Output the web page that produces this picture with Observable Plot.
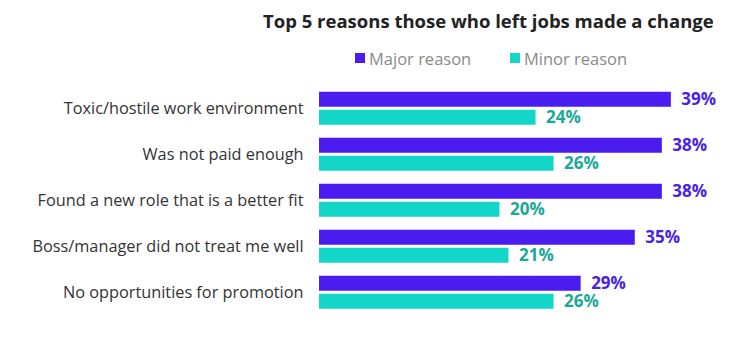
<!DOCTYPE html>
<html>
<head>
<meta charset="utf-8">
<script src="https://cdn.jsdelivr.net/npm/d3@7"></script>
<script src="https://cdn.jsdelivr.net/npm/@observablehq/plot@0.6"></script>
<style>
  html, body { margin: 0; padding: 0; background: #fff; }
  #wrap { position: relative; width: 738px; height: 340px; font-family: "Open Sans", sans-serif; }
  #title { position: absolute; left: 263px; top: 8px; font-size: 18.5px; font-weight: 700; color: #222; white-space: nowrap; line-height: 26px; }
  #legend { position: absolute; left: 0; top: 46px; width: 738px; height: 24px; font-size: 16.5px; color: #8a8a8a; white-space: nowrap; }
  .sw { display: inline-block; width: 10px; height: 10px; margin-right: 4px; }
  .item { position: absolute; top: 0; display: flex; align-items: center; height: 24px; }
  #chart { position: absolute; left: 0; top: 72px; }
</style>
</head>
<body>
<div id="wrap">
  <div id="title"></div>
  <div id="legend"></div>
  <div id="chart"></div>
</div>
<script>
const titleText = "Top 5 reasons those who left jobs made a change";
const categories = [
  "Toxic/hostile work environment",
  "Was not paid enough",
  "Found a new role that is a better fit",
  "Boss/manager did not treat me well",
  "No opportunities for promotion"
];
const seriesNames = ["Major reason", "Minor reason"];
const majorValues = [39, 38, 38, 35, 29];
const minorValues = [24, 26, 20, 21, 26];
const barColors = ["#4A1CF0", "#14D6C8"];
const labelColors = ["#4A22E0", "#1AA898"];
const legendLeft = [355, 510];

const data = categories.flatMap((c, i) => [
  {reason: c, series: seriesNames[0], value: majorValues[i]},
  {reason: c, series: seriesNames[1], value: minorValues[i]}
]);

document.getElementById("title").textContent = titleText;
const legend = document.getElementById("legend");
seriesNames.forEach((s, i) => {
  const item = document.createElement("span");
  item.className = "item";
  item.style.left = legendLeft[i] + "px";
  const sw = document.createElement("span");
  sw.className = "sw";
  sw.style.background = barColors[i];
  item.appendChild(sw);
  item.appendChild(document.createTextNode(s));
  legend.appendChild(item);
});

const chart = Plot.plot({
  width: 738,
  height: 268,
  marginLeft: 319,
  marginRight: 13,
  marginTop: 11.25,
  marginBottom: 22.4,
  style: {fontFamily: "Open Sans, sans-serif", background: "#fff", overflow: "visible"},
  x: {domain: [0, 45], axis: null},
  y: {domain: seriesNames, axis: null, paddingInner: 0.158, paddingOuter: 0.313},
  fy: {domain: categories, padding: 0, label: null},
  color: {domain: seriesNames, range: barColors},
  marks: [
    Plot.barX(data, {x: "value", y: "series", fy: "reason", fill: "series"}),
    ...seriesNames.map((s, i) => Plot.text(data, {
      filter: d => d.series === s,
      x: "value", y: "series", fy: "reason",
      text: d => d.value + "%",
      dx: 10, textAnchor: "start",
      fill: labelColors[i], fontWeight: "bold", fontSize: 17
    })),
    Plot.axisFy({anchor: "left", tickSize: 0, tickPadding: 16, fontSize: 16.3, fill: "#333", label: null})
  ]
});
document.getElementById("chart").appendChild(chart);
</script>
</body>
</html>
